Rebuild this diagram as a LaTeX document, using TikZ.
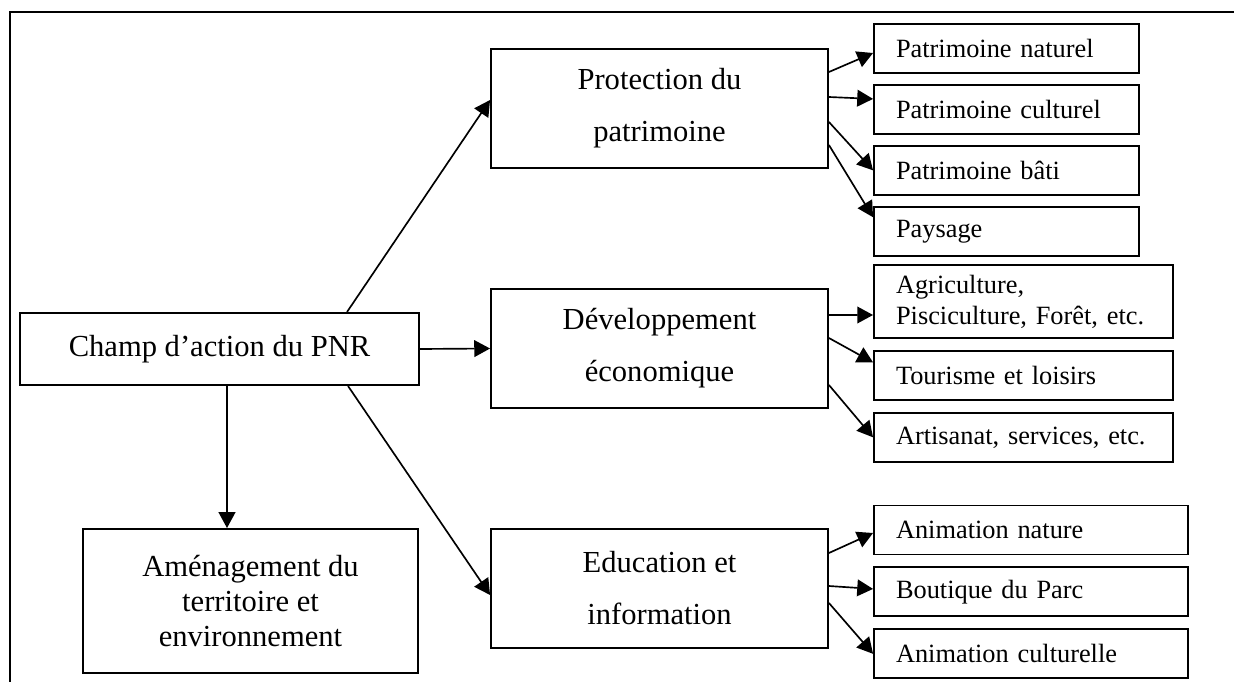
\documentclass[tikz,border=0pt]{standalone}
\usepackage{fontspec}
\setmainfont{Liberation Serif}
\usepackage{tikz}
\usetikzlibrary{arrows.meta, positioning, calc}
\tikzset{
  racine/.style={rectangle, draw, line width=1.1pt, minimum width=7.98cm,
                 minimum height=1.44cm, inner sep=0pt, align=center,
                 font=\fontsize{17.4}{20}\selectfont},
  axe/.style={rectangle, draw, line width=1.1pt, minimum width=6.74cm,
              minimum height=2.38cm, inner sep=0pt, align=center,
              font=\fontsize{17.4}{29.6}\selectfont},
  detail/.style={rectangle, draw, line width=1.1pt, minimum height=0.98cm,
                 inner xsep=0.44cm, inner ysep=0pt, text width=#1, align=left,
                 font=\fontsize{15}{17.6}\selectfont},
  fleche/.style={-{Triangle[length=9pt, width=9.5pt]}, line width=0.95pt}
}
\begin{document}
\begin{tikzpicture}[x=0.02cm, y=-0.02cm, node distance=0.2cm]
    \useasboundingbox (0,0) rectangle (1234,682);
    \draw[line width=1.2pt] (1234,12) -- (10,12) -- (10,682);
    % colonne de gauche
    \node[racine] (champ) at (219.5,349) {Champ d’action du PNR};
    \node[racine, minimum width=6.70cm, minimum height=2.88cm] (amenagement)
      at (250.5,601) {Aménagement du\\territoire et\\environnement};
    % axes
    \node[axe] (protection) at (659.5,108.5) {Protection du\\patrimoine};
    \node[axe] (developpement) at (659.5,348.5) {Développement\\économique};
    \node[axe] (education) at (659.5,588.5) {Education et\\information};
    % protection du patrimoine
    \node[detail=4.42cm] (naturel) at (1006.5,48.5) {Patrimoine naturel};
    \node[detail=4.42cm, below=of naturel] (culturel) {Patrimoine culturel};
    \node[detail=4.42cm, below=of culturel] (bati) {Patrimoine bâti};
    \node[detail=4.42cm, below=of bati] (paysage) {Paysage};
    % développement économique
    \node[detail=5.10cm, minimum height=1.46cm] (agriculture) at (1023.5,301.5)
      {Agriculture,\\Pisciculture, Forêt, etc.};
    \node[detail=5.10cm, below=0.22cm of agriculture] (tourisme) {Tourisme et loisirs};
    \node[detail=5.10cm, below=0.22cm of tourisme] (artisanat) {Artisanat, services, etc.};
    % éducation et information
    \node[detail=5.40cm] (nature) at (1031,530) {Animation nature};
    \node[detail=5.40cm, below=0.22cm of nature] (boutique) {Boutique du Parc};
    \node[detail=5.40cm, below=0.22cm of boutique] (animculture) {Animation culturelle};
    % flèches
    \draw[fleche] ($(champ.north)+(127.5,0)$) -- ($(protection.west)+(0,-8.5)$);
    \draw[fleche] (champ.east) -- (developpement.west);
    \draw[fleche] ($(champ.south)+(128.5,0)$) -- ($(education.west)+(0,6.5)$);
    \draw[fleche] ($(champ.south)+(7.5,0)$) -- ($(amenagement.north)+(-23.5,0)$);
    \draw[fleche] ($(protection.east)+(0,-36.5)$) -- ($(naturel.west)+(0,4.5)$);
    \draw[fleche] ($(protection.east)+(0,-11.5)$) -- ($(culturel.west)+(0,-10.5)$);
    \draw[fleche] ($(protection.east)+(0,13.5)$) -- (bati.west);
    \draw[fleche] ($(protection.east)+(0,36.5)$) -- ($(paysage.west)+(0,-14)$);
    \draw[fleche] ($(developpement.east)+(0,-33.5)$) -- ($(agriculture.west)+(0,13.5)$);
    \draw[fleche] ($(developpement.east)+(0,-10.5)$) -- ($(tourisme.west)+(0,-13)$);
    \draw[fleche] ($(developpement.east)+(0,36.5)$) -- (artisanat.west);
    \draw[fleche] ($(education.east)+(0,-35.5)$) -- ($(nature.west)+(0,3)$);
    \draw[fleche] ($(education.east)+(0,-2.5)$) -- ($(boutique.west)+(0,-3)$);
    \draw[fleche] ($(education.east)+(0,14.5)$) -- (animculture.west);
\end{tikzpicture}
\end{document}
